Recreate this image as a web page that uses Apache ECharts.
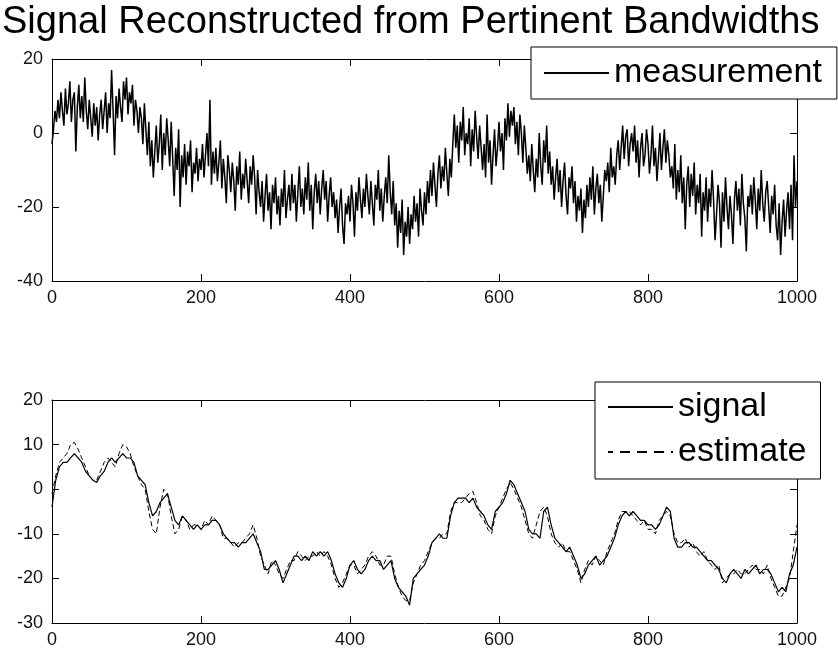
<!DOCTYPE html>
<html>
<head>
<meta charset="utf-8">
<script src="https://cdn.jsdelivr.net/npm/echarts@6/dist/echarts.min.js"></script>
<style>
html,body{margin:0;padding:0;background:#fff;}
#chart{width:838px;height:653px;}
</style>
</head>
<body>
<div id="chart"></div>
<script>
// ---- data ----
var titleText = 'Signal Reconstructed from Pertinent Bandwidths';
var seriesNames = ['measurement', 'signal', 'estimate'];
var xTicks = [0, 200, 400, 600, 800, 1000];
var yTicksTop = [-40, -20, 0, 20];
var yTicksBottom = [-30, -20, -10, 0, 10, 20];

// measurement, sampled every 2 units from x = 0 to 1000
var measurementStep = 2;
var measurement = [
 -3, 1, 6, 3, 9, 4, 11, 6, 2, 12,
 5, 8, 14, 3, 9, 11, -5, 7, 13, 4,
 10, 3, 15, 6, 1, 9, 4, -1, 8, 2,
 7, -2, 5, 9, 1, 6, 11, 0, 8, 4,
 17, 6, -6, 10, 4, 12, 7, 3, 14, 9,
 15, 5, 11, 8, 13, 2, 9, 6, 0, 7,
 4, -3, 8, 1, -6, 3, -9, -2, -12, -5,
 2, -8, -3, 5, -10, 0, -6, 4, -2, -9,
 3, -7, -17, -4, -10, 1, -20, -6, -12, -3,
 -14, -5, -9, -2, -16, -8, -11, -4, -13, -7,
 -10, -3, -12, -6, 0, -9, 9, -14, -5, -11,
 -4, -13, -8, -2, -15, -7, -12, -19, -6, -10,
 -16, -8, -13, -21, -9, -14, -5, -18, -11, -15,
 -7, -13, -19, -9, -14, -6, -12, -22, -10, -16,
 -20, -13, -24, -17, -11, -21, -16, -26, -14, -19,
 -12, -22, -17, -25, -15, -20, -10, -23, -18, -14,
 -21, -11, -19, -14, -24, -16, -9, -20, -15, -22,
 -12, -18, -8, -21, -14, -26, -16, -11, -19, -13,
 -22, -15, -10, -18, -13, -24, -17, -12, -20, -16,
 -23, -18, -27, -20, -15, -25, -30, -19, -22, -17,
 -24, -14, -19, -28, -16, -21, -12, -18, -23, -15,
 -20, -11, -17, -22, -13, -19, -25, -14, -18, -10,
 -21, -15, -24, -17, -12, -19, -6, -16, -22, -13,
 -25, -19, -31, -21, -27, -18, -33, -24, -28, -20,
 -30, -22, -26, -17, -24, -19, -28, -15, -21, -25,
 -16, -22, -13, -19, -10, -17, -8, -14, -20, -11,
 -6, -15, -9, -13, -4, -11, -17, -7, -12, -3,
 5, -4, 2, -8, 3, -2, 7, -6, 0, -3,
 4, -9, 1, -5, 6, -1, -7, 2, -4, -10,
 -3, -12, 5, -8, -2, -14, -6, 1, -9, -4,
 3, -5, 0, -10, 4, -2, 8, -1, 6, 2,
 7, -3, 3, -6, 5, 0, -8, 2, -4, -11,
 -6, -13, -3, -10, -16, -7, -12, 0, -9, -14,
 -2, -8, 2, -11, -5, -14, -9, -18, -12, -7,
 -16, -10, -20, -13, -8, -17, -22, -12, -15, -9,
 -19, -13, -24, -17, -21, -15, -27, -18, -23, -14,
 -20, -12, -18, -9, -22, -15, -11, -19, -14, -24,
 -17, -10, -13, -8, -16, -4, -12, -9, -14, -6,
 -2, -10, -4, 2, -7, -1, 1, -9, -3, 0,
 -5, 2, -8, -2, -12, -4, 0, -9, -6, 1,
 -3, -11, -6, 2, -9, -4, -13, -7, 0, -10,
 -4, 1, -8, -2, -6, -12, -9, -15, -3, -18,
 -10, -16, -6, -19, -12, -26, -14, -9, -20, -11,
 -17, -8, -22, -14, -19, -11, -28, -16, -21, -12,
 -24, -15, -20, -10, -18, -29, -22, -14, -19, -31,
 -16, -24, -12, -20, -26, -17, -22, -30, -18, -13,
 -21, -15, -25, -11, -19, -23, -32, -17, -20, -14,
 -22, -12, -18, -26, -15, -21, -10, -19, -24, -16,
 -13, -20, -27, -17, -22, -14, -25, -29, -19, -33,
 -24, -18, -28, -21, -16, -26, -14, -29, -6, -20,
 -13
];

// signal and estimate, sampled every 5 units from x = 0 to 1000
var smoothStep = 5;
var signal = [
 -4, 2, 5, 6, 6, 7, 8, 7, 6, 4,
 3, 2, 1.5, 3, 4, 6, 7, 6, 7, 8,
 7, 7, 6, 3, 2, 1, -3, -6, -5, -3,
 -2, -1, -4, -7, -8, -6, -7, -8, -9, -8,
 -9, -8, -8, -7, -7, -8, -10, -11, -12, -12,
 -13, -12, -12, -11, -10, -12, -14, -18, -18, -17,
 -16, -18, -21, -19, -17, -15, -15, -16, -15, -16,
 -14, -15, -14, -15, -14, -16, -19, -21, -22, -20,
 -17, -16, -18, -19, -18, -16, -15, -16, -16, -18,
 -17, -16, -20, -22, -23, -24, -26, -20, -19, -18,
 -17, -15, -12, -11, -10, -11, -11, -6, -3, -2,
 -2, -2, -3, -2, -4, -5, -6, -8, -9, -5,
 -4, -3, -1, 2, 1, -1, -3, -5, -9, -10,
 -10, -11, -5, -4, -8, -11, -12, -13, -14, -13,
 -15, -17, -20, -19, -17, -16, -15, -17, -16, -15,
 -13, -11, -8, -6, -5, -6, -5, -6, -7, -7,
 -8, -8, -9, -8, -6, -4, -5, -11, -13, -13,
 -12, -12, -13, -13, -14, -15, -16, -16, -17, -18,
 -20, -21, -19, -18, -19, -20, -18, -19, -18, -17,
 -19, -18, -18, -19, -21, -23, -22, -23, -19, -17,
 -13
];
var estimate = [
 -1, 3, 6, 7, 8, 10, 10.5, 9, 7, 5,
 3, 2, 2, 4, 6, 7, 6, 5, 8, 10,
 9.5, 8, 5, 3, 1, 0, -5, -9, -10, -4,
 0, -1, -6, -10, -9, -6, -7, -9, -8, -8,
 -9, -7, -8, -6, -7, -8, -11, -11, -12, -13,
 -12, -12, -11, -10, -8, -11, -15, -17, -19, -16,
 -17, -19, -20, -18, -16, -16, -14, -15, -16, -15,
 -15, -14, -15, -14, -15, -17, -20, -22, -21, -19,
 -17, -17, -19, -18, -17, -15, -14, -15, -17, -17,
 -15, -15, -19, -22, -24, -25, -25, -21, -19, -17,
 -16, -14, -12, -11, -11, -10, -10, -5, -3, -3,
 -3, -2, -1, -0.5, -3, -6, -7, -9, -10, -6,
 -4, -2, 0, 1.5, 0, -2, -4, -7, -10, -11,
 -8, -5, -4, -6, -10, -12, -13, -12, -14, -14,
 -16, -18, -21, -18, -16, -17, -15, -16, -17, -14,
 -12, -10, -7, -5, -5, -5, -6, -7, -8, -7,
 -9, -9, -10, -7, -6, -5, -6, -10, -12, -12,
 -11, -13, -12, -14, -15, -14, -16, -17, -18, -17,
 -21, -20, -19, -19, -18, -19, -19, -18, -17, -18,
 -18, -19, -17, -20, -22, -24, -24, -22, -20, -14,
 -8
];

function pairs(values, step) {
  return values.map(function (v, i) { return [i * step, v]; });
}

var FONT = 'Liberation Sans, Arial, Helvetica, sans-serif';
function plain(v) { return String(v); }

function xAxisDef(gridIndex, pos, showLabel) {
  return {
    type: 'value', gridIndex: gridIndex, position: pos,
    min: xTicks[0], max: xTicks[xTicks.length - 1], interval: xTicks[1] - xTicks[0],
    axisLine: { show: true, onZero: false, lineStyle: { color: '#000', width: 1 } },
    axisTick: { show: true, inside: true, length: 7, lineStyle: { color: '#000' } },
    axisLabel: { show: showLabel, color: '#111', fontSize: 18, fontFamily: FONT, margin: 8,
                 showMinLabel: true, showMaxLabel: true, formatter: plain },
    splitLine: { show: false }
  };
}
function yAxisDef(gridIndex, pos, showLabel, ticks) {
  return {
    type: 'value', gridIndex: gridIndex, position: pos,
    min: ticks[0], max: ticks[ticks.length - 1], interval: ticks[1] - ticks[0],
    axisLine: { show: true, onZero: false, lineStyle: { color: '#000', width: 1 } },
    axisTick: { show: true, inside: true, length: 7, lineStyle: { color: '#000' } },
    axisLabel: { show: showLabel, color: '#111', fontSize: 18, fontFamily: FONT, margin: 9,
                 showMinLabel: true, showMaxLabel: true, formatter: plain },
    splitLine: { show: false }
  };
}

var legendCommon = {
  orient: 'vertical', itemWidth: 65, itemHeight: 20, itemGap: 11,
  backgroundColor: '#fff', borderColor: '#000', borderWidth: 1, borderRadius: 0,
  textStyle: { fontSize: 34, color: '#000', fontFamily: FONT },
  itemStyle: { opacity: 0 },
  selectedMode: false
};

var chart = echarts.init(document.getElementById('chart'), null, { renderer: 'canvas' });
chart.setOption({
  animation: false,
  backgroundColor: '#fff',
  title: {
    text: titleText, left: 2, top: 4, padding: 0,
    textStyle: { fontSize: 38, fontWeight: 'normal', color: '#000', fontFamily: FONT }
  },
  legend: [
    Object.assign({}, legendCommon, {
      data: [seriesNames[0]], left: 531, top: 47, padding: [9, 15, 9, 12]
    }),
    Object.assign({}, legendCommon, {
      data: [
        { name: seriesNames[1] },
        { name: seriesNames[2], lineStyle: { type: [10, 7], dashOffset: 5 } }
      ],
      left: 595, top: 382, padding: [8, 14, 10, 12]
    })
  ],
  grid: [
    { left: 52, top: 59, width: 745, height: 222 },
    { left: 52, top: 400, width: 745, height: 223 }
  ],
  xAxis: [
    xAxisDef(0, 'bottom', true), xAxisDef(0, 'top', false),
    xAxisDef(1, 'bottom', true), xAxisDef(1, 'top', false)
  ],
  yAxis: [
    yAxisDef(0, 'left', true, yTicksTop), yAxisDef(0, 'right', false, yTicksTop),
    yAxisDef(1, 'left', true, yTicksBottom), yAxisDef(1, 'right', false, yTicksBottom)
  ],
  series: [
    {
      name: seriesNames[0], type: 'line', xAxisIndex: 0, yAxisIndex: 0,
      data: pairs(measurement, measurementStep), symbol: 'none', showSymbol: false,
      lineStyle: { color: '#000', width: 1.5 }, itemStyle: { color: '#000' }
    },
    {
      name: seriesNames[1], type: 'line', xAxisIndex: 2, yAxisIndex: 2,
      data: pairs(signal, smoothStep), symbol: 'none', showSymbol: false,
      lineStyle: { color: '#000', width: 1.2 }, itemStyle: { color: '#000' }
    },
    {
      name: seriesNames[2], type: 'line', xAxisIndex: 2, yAxisIndex: 2,
      data: pairs(estimate, smoothStep), symbol: 'none', showSymbol: false,
      lineStyle: { color: '#000', width: 1, type: [5, 3] }, itemStyle: { color: '#000' }
    }
  ]
});
</script>
</body>
</html>
